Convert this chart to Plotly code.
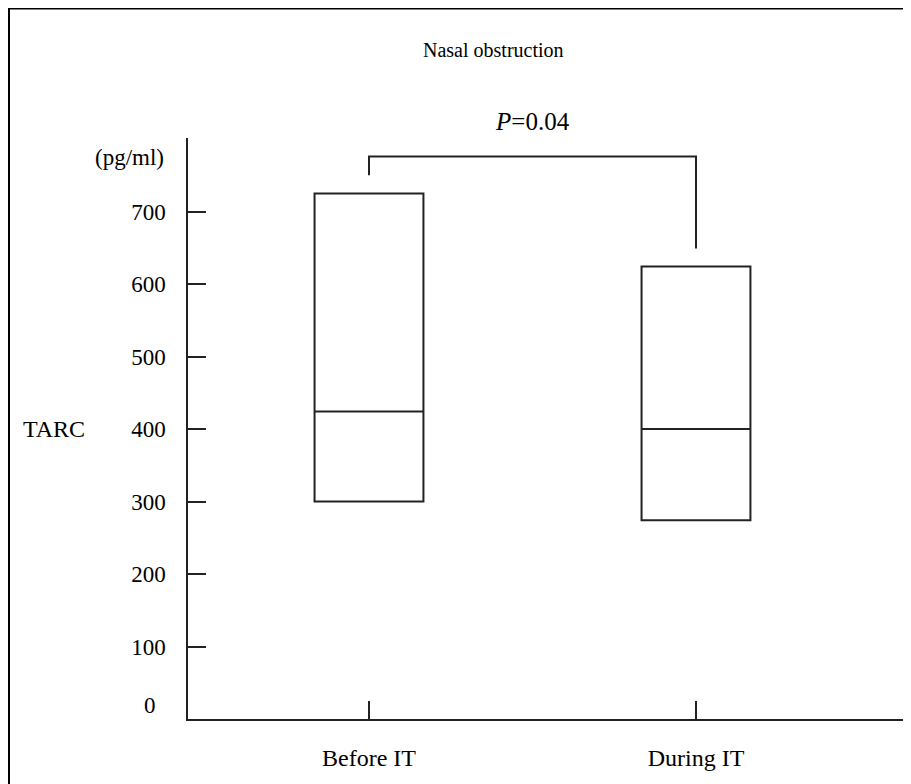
import plotly.graph_objects as go

categories = ["Before IT", "During IT"]
q1_vals = [300, 274]
median_vals = [424, 400]
q3_vals = [725, 624]
y_tick_vals = [100, 200, 300, 400, 500, 600, 700]
y_tick_text = ["100", "200", "300", "400", "500", "600", "700"]
bracket_y = [750, 776, 776, 649]
p_label = "<i>P</i>=0.04"

FONT = "Liberation Serif, Times New Roman, serif"
INK = "#222222"

# plot-area geometry (figure pixels)
L, T, R, B = 180, 130, 903, 711
PW, PH = R - L, B - T

def px(xf):
    return (xf - L) / PW

def py(yf):
    return (B - yf) / PH

x_pos = list(range(len(categories)))

fig = go.Figure()
fig.add_trace(go.Box(
    x=x_pos, q1=q1_vals, median=median_vals, q3=q3_vals,
    lowerfence=q1_vals, upperfence=q3_vals,
    width=0.333, fillcolor="white",
    line=dict(color=INK, width=2), whiskerwidth=0,
    boxpoints=False, showlegend=False, hoverinfo="skip",
))
fig.add_trace(go.Scatter(
    x=[x_pos[0], x_pos[0], x_pos[1], x_pos[1]], y=bracket_y,
    mode="lines", line=dict(color=INK, width=2),
    showlegend=False, hoverinfo="skip", cliponaxis=False,
))

fig.update_layout(
    width=911, height=784,
    margin=dict(l=L, r=911 - R, t=T, b=784 - B),
    plot_bgcolor="white", paper_bgcolor="white",
    font=dict(family=FONT, size=23, color="black"),
    showlegend=False,
)
fig.update_xaxes(
    range=[-0.5535, 1.6575], tickvals=x_pos, ticktext=categories,
    ticks="inside", ticklen=18, tickwidth=1.5, tickcolor=INK,
    showline=True, linecolor=INK, linewidth=2,
    showgrid=False, zeroline=False, ticklabelstandoff=16,
    tickfont=dict(family=FONT, size=24),
)
fig.update_yaxes(
    range=[0, 801.4], tickvals=y_tick_vals, ticktext=y_tick_text,
    ticks="inside", ticklen=18, tickwidth=1.5, tickcolor=INK,
    showline=True, linecolor=INK, linewidth=1.5,
    showgrid=False, zeroline=False, ticklabelstandoff=16,
    tickfont=dict(family=FONT, size=23),
)

fig.add_annotation(text="0", xref="paper", yref="y", x=px(142), y=0,
                   yshift=14, xanchor="center", yanchor="middle", showarrow=False,
                   font=dict(family=FONT, size=23))
fig.add_annotation(text="(pg/ml)", xref="paper", yref="y", x=px(158), y=775,
                   xanchor="right", yanchor="middle", showarrow=False,
                   font=dict(family=FONT, size=23))
fig.add_annotation(text="TARC", xref="paper", yref="y", x=px(13), y=400,
                   xanchor="left", yanchor="middle", showarrow=False,
                   font=dict(family=FONT, size=24))
fig.add_annotation(text=p_label, xref="x", yref="paper", x=0.5, y=py(114),
                   xanchor="center", yanchor="middle", showarrow=False,
                   font=dict(family=FONT, size=25))
fig.add_annotation(text="Nasal obstruction", xref="paper", yref="paper",
                   x=px(485), y=py(42),
                   xanchor="center", yanchor="middle", showarrow=False,
                   font=dict(family=FONT, size=20))

# outer frame (left and top edges visible)
fig.add_shape(type="rect", xref="paper", yref="paper",
              x0=px(1), x1=1.2, y0=-0.3, y1=py(0.5),
              line=dict(color="black", width=2), fillcolor="rgba(0,0,0,0)", layer="below")

fig.write_html("out.html")
